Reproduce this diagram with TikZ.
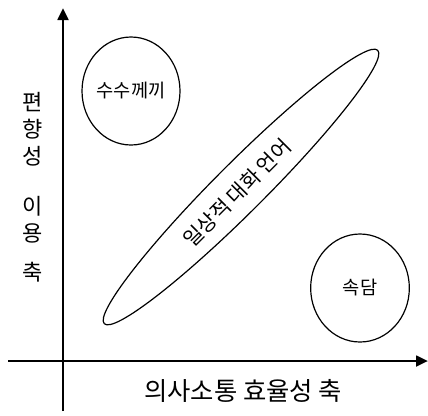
\documentclass[tikz,border=0pt]{standalone}
\usepackage{fontspec}
\setmainfont{Noto Sans CJK KR}
\usetikzlibrary{arrows.meta,shapes.geometric}
\tikzset{
  axis/.style={line width=2pt,-{Triangle[length=9pt,width=8pt]}},
  blob/.style={draw,line width=0.9pt,ellipse,inner sep=0pt},
  blobtext/.style={font=\fontsize{14pt}{16pt}\selectfont},
}
\begin{document}
\begin{tikzpicture}[x=0.75pt,y=-0.75pt]
\useasboundingbox (0,0) rectangle (428,415);
\coordinate (xs) at (8,361);
\coordinate (xe) at (428,361);
\coordinate (ys) at (63,411);
\coordinate (ye) at (63,8);
\draw[axis] (xs) -- (xe);
\draw[axis] (ys) -- (ye);
\node[blob,blobtext,minimum width=73.5pt,minimum height=81pt] (riddle) at (131,91) {수수께끼};
\node[blob,blobtext,minimum width=74pt,minimum height=81pt] (proverb) at (360,288) {속담};
\node[blob,minimum width=290pt,minimum height=37pt,rotate=45] (daily) at (241,187) {};
\node[rotate=45,inner sep=0pt,font=\fontsize{15.5pt}{17pt}\selectfont] (dailytext) at (237,193) {일상적 대화 언어};
\node[font=\fontsize{16.5pt}{20.25pt}\selectfont,align=center,inner sep=0pt] (ylabel) at (33,187) {편\\향\\성\\[17pt]이\\용\\[9pt]축};
\node[font=\fontsize{19pt}{21pt}\selectfont,inner sep=0pt] (xlabel) at (243,391) {의사소통 효율성 축};
\end{tikzpicture}
\end{document}
